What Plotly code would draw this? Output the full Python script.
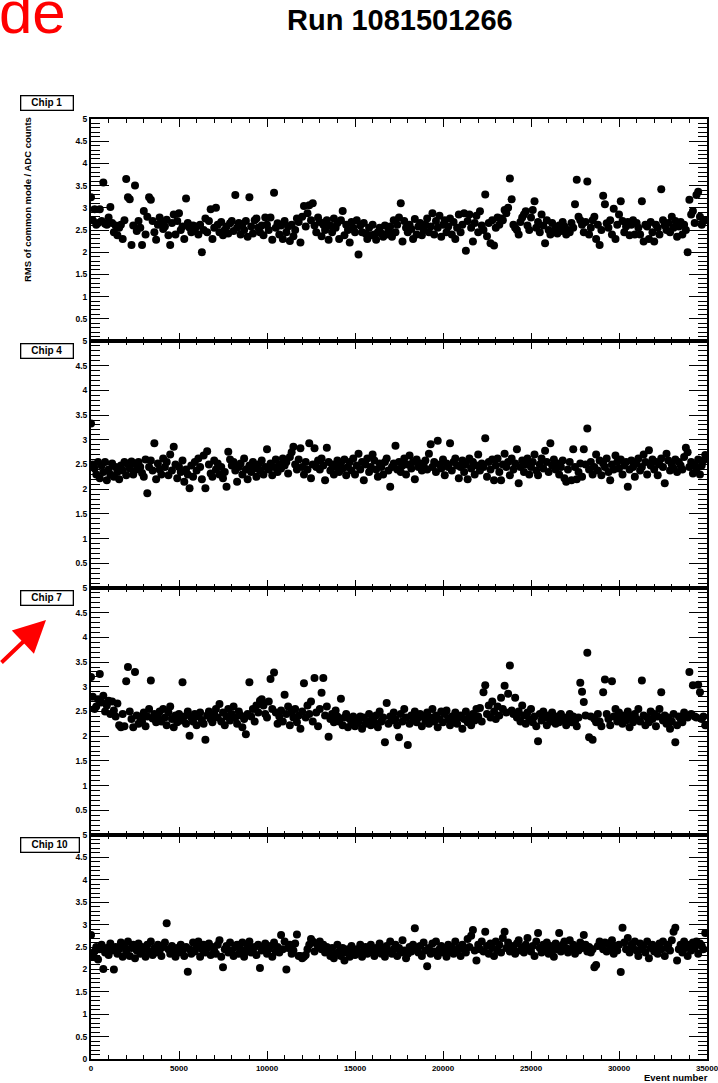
import plotly.graph_objects as go

W, H = 718, 1083

events = list(range(0, 35000, 100))

chip1 = [
3.24,2.72,2.97,2.62,2.66,2.97,2.70,3.57,2.64,2.62,
2.78,3.02,2.66,2.45,2.60,2.38,2.55,2.62,2.30,2.72,
3.65,3.24,3.19,2.16,2.60,3.50,2.48,2.70,2.55,2.16,
2.93,2.40,2.80,3.24,3.18,2.70,2.45,2.28,2.62,2.78,
2.68,2.52,2.58,2.73,2.38,2.16,2.66,2.85,2.40,2.70,
2.88,2.50,2.58,2.30,3.21,2.66,2.55,2.45,2.60,2.48,
2.58,2.40,2.62,2.00,2.50,2.76,2.45,2.70,2.97,2.30,
2.55,3.00,2.62,2.45,2.68,2.38,2.50,2.58,2.42,2.65,
2.70,2.48,3.29,2.55,2.66,2.40,2.62,2.50,2.70,2.35,
3.24,2.58,2.42,2.72,2.76,2.55,2.45,2.60,2.38,2.78,
2.62,2.50,2.78,2.28,3.34,2.55,2.65,2.40,2.60,2.30,
2.70,2.45,2.58,2.25,2.62,2.36,2.50,2.76,2.68,2.22,
2.80,3.04,2.58,2.88,3.06,2.72,3.10,2.60,2.45,2.78,
2.68,2.36,2.62,2.50,2.72,2.28,2.60,2.45,2.76,2.55,
2.66,2.30,2.72,2.93,2.38,2.62,2.50,2.22,2.68,2.55,
2.45,2.72,1.95,2.60,2.45,2.66,2.42,2.30,2.55,2.38,
2.62,2.40,2.28,2.45,2.55,2.42,2.35,2.60,2.40,2.48,
2.58,2.35,2.72,2.45,2.62,2.78,3.10,2.24,2.70,2.55,
2.45,2.62,2.52,2.30,2.75,2.40,2.58,2.66,2.38,2.50,
2.62,2.76,2.45,2.58,2.88,2.40,2.70,2.55,2.82,2.35,
2.62,2.72,2.45,2.58,2.76,2.40,2.68,2.30,2.55,2.85,
2.45,2.62,2.88,2.03,2.70,2.85,2.55,2.24,2.66,2.82,
2.45,2.92,2.60,2.50,3.30,2.36,2.66,2.20,2.72,2.15,
2.55,2.78,2.62,2.76,2.72,2.95,2.88,3.00,3.66,3.19,
2.62,2.55,2.50,2.40,2.68,2.78,2.85,2.92,2.60,2.50,
2.78,2.95,3.15,2.55,2.68,2.45,2.85,2.60,2.20,2.72,
2.50,2.40,2.66,2.45,2.55,2.42,2.60,2.48,2.68,2.58,
2.40,2.50,2.45,2.66,2.55,3.08,3.63,2.80,2.72,2.62,
2.45,2.68,3.59,2.40,2.55,2.72,2.80,2.30,2.62,2.16,
2.50,3.27,3.08,2.65,2.55,2.72,2.40,2.98,2.30,2.62,
2.85,3.15,2.70,2.45,2.58,2.68,2.38,2.62,2.72,2.40,
2.66,2.55,2.40,3.15,2.24,2.62,2.58,2.30,2.68,2.45,
2.24,2.62,2.55,2.40,3.42,2.72,2.60,2.50,2.66,2.45,
2.80,2.55,2.70,2.35,2.58,2.68,2.40,2.62,2.50,2.00,
3.18,2.85,2.93,2.66,3.29,3.36,2.80,2.62,2.70,2.72,
]

chip4 = [
3.33,2.50,2.42,2.30,2.55,2.22,2.48,2.35,2.55,2.18,
2.40,2.30,2.52,2.25,2.45,2.35,2.20,2.48,2.38,2.55,
2.28,2.50,2.42,2.56,2.30,2.52,2.40,2.55,2.45,2.33,
2.25,2.60,1.92,2.45,2.58,2.38,2.93,2.20,2.52,2.40,
2.30,2.62,2.45,2.55,2.28,2.70,2.38,2.86,2.50,2.22,
2.45,2.35,2.58,2.15,2.40,2.30,2.02,2.48,2.25,2.55,
2.38,2.62,2.45,2.20,2.68,2.02,2.77,2.50,2.32,2.25,
2.58,2.40,2.52,2.30,2.45,2.22,2.35,2.05,2.76,2.60,
2.48,2.55,2.38,2.15,2.45,2.52,2.30,2.62,2.40,2.20,
2.48,2.35,2.55,2.42,2.25,2.50,2.38,2.58,2.30,2.45,
2.81,2.40,2.52,2.28,2.45,2.60,2.35,2.50,2.42,2.62,
2.48,2.55,2.32,2.65,2.75,2.86,2.50,2.40,2.60,2.83,
2.45,2.30,2.55,2.40,2.93,2.22,2.50,2.83,2.45,2.58,
2.40,2.62,2.48,2.18,2.84,2.55,2.38,2.50,2.30,2.45,
2.58,2.35,2.52,2.42,2.60,2.28,2.45,2.55,2.38,2.62,
2.30,2.48,2.72,2.40,2.55,2.18,2.50,2.62,2.35,2.45,
2.70,2.58,2.40,2.25,2.52,2.45,2.30,2.55,2.62,2.38,
2.05,2.45,2.52,2.88,2.40,2.55,2.35,2.48,2.62,2.30,
2.50,2.68,2.42,2.55,2.20,2.60,2.45,2.52,2.38,2.48,
2.58,2.40,2.72,2.91,2.45,2.55,2.35,2.98,2.50,2.42,
2.60,2.28,2.52,2.45,2.93,2.38,2.55,2.62,2.48,2.22,
2.45,2.58,2.35,2.50,2.20,2.62,2.42,2.55,2.30,2.48,
2.70,2.38,2.52,2.45,3.03,2.25,2.55,2.40,2.60,2.18,
2.48,2.62,2.35,2.18,2.50,2.72,2.45,2.55,2.28,2.62,
2.40,2.52,2.81,2.12,2.45,2.58,2.35,2.50,2.62,2.30,
2.45,2.55,2.70,2.38,2.28,2.50,2.62,2.42,2.78,2.55,
2.35,2.93,2.48,2.60,2.40,2.52,2.30,2.45,2.58,2.22,
2.15,2.40,2.55,2.18,2.81,2.45,2.20,2.35,2.52,2.25,
2.81,2.50,3.23,2.40,2.55,2.30,2.45,2.70,2.38,2.58,
2.28,2.52,2.45,2.62,2.35,2.18,2.50,2.40,2.68,2.55,
2.42,2.60,2.30,2.48,2.55,2.05,2.40,2.58,2.45,2.25,
2.52,2.62,2.38,2.45,2.70,2.55,2.30,2.79,2.48,2.60,
2.40,2.55,2.28,2.50,2.62,2.45,2.12,2.72,2.58,2.38,
2.50,2.42,2.60,2.35,2.55,2.48,2.40,2.65,2.84,2.75,
2.45,2.55,2.32,2.50,2.40,2.60,2.30,2.48,2.58,2.69,
]

chip7 = [
3.20,2.80,2.55,2.60,2.75,3.26,2.68,2.82,2.50,2.62,
2.72,2.45,2.70,2.52,2.40,2.66,2.22,2.18,2.45,2.20,
3.11,3.40,2.50,2.35,2.18,3.30,2.42,2.25,2.38,2.30,
2.48,2.20,2.40,2.55,3.13,2.36,2.45,2.28,2.42,2.50,
2.30,2.55,2.38,2.22,2.48,2.60,2.35,2.18,2.42,2.28,
2.45,2.32,3.09,2.40,2.25,2.50,2.01,2.38,2.30,2.45,
2.22,2.40,2.48,2.33,2.25,1.93,2.42,2.50,2.35,2.28,
2.45,2.55,2.38,2.65,2.30,2.48,2.22,2.40,2.55,2.32,
2.45,2.60,2.38,2.25,2.50,2.42,2.18,2.35,2.04,2.45,
3.09,2.40,2.55,2.30,2.62,2.48,2.72,2.75,2.62,2.45,
2.38,2.70,3.16,2.55,3.29,2.48,2.25,2.40,2.52,2.30,
2.84,2.45,2.60,2.22,2.50,2.38,2.55,2.28,2.42,2.15,
2.50,3.07,2.38,2.62,2.45,2.70,2.30,3.18,2.48,2.20,
2.55,2.88,3.18,2.42,2.60,1.99,2.35,2.45,2.28,2.52,
2.40,2.30,2.76,2.22,2.38,2.45,2.18,2.35,2.25,2.40,
2.20,2.32,2.28,2.40,2.15,2.38,2.25,2.30,2.45,2.22,
2.35,2.28,2.42,2.18,2.50,2.30,2.38,1.88,2.67,2.25,
2.40,2.32,2.48,2.35,2.22,1.98,2.45,2.30,2.55,2.38,
1.82,2.25,2.42,2.35,2.50,2.28,2.38,2.45,2.20,2.40,
2.32,2.48,2.25,2.38,2.55,2.30,2.42,2.18,2.35,2.50,
2.28,2.45,2.52,2.35,2.22,2.40,2.30,2.48,2.25,2.38,
2.42,2.15,2.35,2.50,2.28,2.40,2.22,2.45,2.32,2.55,
2.40,2.57,2.30,2.89,3.03,2.45,2.62,2.38,2.70,2.50,
2.35,2.60,2.42,2.78,2.55,3.02,2.48,2.86,3.43,2.52,
2.45,2.78,2.38,2.50,2.30,2.62,2.42,2.25,2.48,2.35,
2.55,2.28,2.40,2.20,1.90,2.45,2.32,2.50,2.38,2.22,
2.42,2.30,2.48,2.35,2.25,2.40,2.28,2.45,2.32,2.38,
2.22,2.35,2.45,2.28,2.40,2.30,2.20,2.38,3.08,2.90,
2.69,2.42,3.69,1.98,2.40,1.93,2.35,2.28,2.45,2.30,
2.20,2.89,3.15,2.45,2.35,2.22,3.11,2.40,2.55,2.30,
2.48,2.38,2.25,2.42,2.32,2.50,2.18,2.40,2.28,2.45,
2.35,2.55,2.30,3.13,2.42,2.22,2.38,2.28,2.50,2.35,
2.45,2.20,2.40,2.55,2.89,2.32,2.42,2.25,2.38,2.15,
2.30,2.45,1.88,2.22,2.40,2.35,2.28,2.48,2.42,2.38,
3.30,2.45,3.03,2.40,2.38,3.04,2.89,2.35,2.40,2.22,
]

chip10 = [
2.77,2.28,2.40,2.50,2.22,2.45,2.55,2.01,2.38,2.48,
2.32,2.58,2.42,2.00,2.50,2.35,2.45,2.60,2.28,2.52,
2.40,2.62,2.30,2.48,2.55,2.25,2.42,2.58,2.35,2.50,
2.45,2.28,2.55,2.40,2.62,2.32,2.48,2.38,2.55,2.42,
2.30,2.50,2.60,3.03,2.45,2.35,2.52,2.40,2.28,2.48,
2.38,2.55,2.42,2.30,2.50,1.95,2.45,2.35,2.60,2.40,
2.52,2.62,2.28,2.45,2.55,2.38,2.48,2.58,2.32,2.50,
2.42,2.35,2.55,2.65,2.28,2.05,2.45,2.52,2.38,2.60,
2.42,2.30,2.50,2.55,2.35,2.45,2.60,2.28,2.40,2.52,
2.62,2.38,2.45,2.50,2.32,2.55,2.03,2.42,2.48,2.58,
2.35,2.45,2.52,2.28,2.60,2.40,2.50,2.38,2.77,2.45,
2.62,2.00,2.48,2.55,2.35,2.42,2.58,2.78,2.30,2.30,
2.25,2.28,2.32,2.45,2.55,2.68,2.62,2.40,2.58,2.50,
2.62,2.45,2.55,2.38,2.50,2.42,2.30,2.48,2.25,2.35,
2.55,2.40,2.30,2.48,2.20,2.38,2.45,2.28,2.52,2.40,
2.32,2.45,2.38,2.55,2.28,2.42,2.50,2.35,2.45,2.55,
2.38,2.30,2.48,2.42,2.58,2.35,2.45,2.28,2.52,2.40,
2.62,2.35,2.45,2.55,2.30,2.48,2.38,2.65,2.42,2.25,
2.35,2.50,2.40,2.55,2.92,2.45,2.38,2.52,2.30,2.60,
2.42,2.07,2.48,2.35,2.58,2.40,2.62,2.30,2.45,2.52,
2.38,2.45,2.28,2.55,2.40,2.50,2.35,2.62,2.42,2.48,
2.30,2.55,2.45,2.38,2.68,2.50,2.75,2.88,2.42,2.20,
2.55,2.45,2.62,2.40,2.84,2.52,2.35,2.58,2.48,2.30,
2.62,2.42,2.55,2.38,2.70,2.84,2.48,2.60,2.40,2.52,
2.45,2.35,2.58,2.65,2.42,2.50,2.38,2.55,2.70,2.45,
2.40,2.52,2.30,2.62,2.81,2.48,2.38,2.55,2.45,2.60,
2.35,2.52,2.42,2.28,2.58,2.45,2.81,2.40,2.55,2.62,
2.48,2.38,2.65,2.45,2.55,2.35,2.50,2.42,2.60,2.48,
2.77,2.55,2.40,2.50,2.38,2.45,2.05,2.10,2.52,2.62,
2.55,2.45,2.60,2.40,2.58,2.48,2.65,2.35,2.52,2.42,
2.55,1.94,2.93,2.60,2.45,2.70,2.38,2.55,2.48,2.62,
2.42,2.30,2.58,2.45,2.52,2.38,2.62,2.25,2.48,2.55,
2.40,2.50,2.35,2.58,2.45,2.62,2.30,2.48,2.55,2.42,
2.65,2.84,2.93,2.20,2.45,2.55,2.38,2.62,2.48,2.30,
2.55,2.42,2.60,2.48,2.62,2.35,2.58,2.52,2.45,2.81,
]

panels = [("Chip 1", chip1), ("Chip 4", chip4), ("Chip 7", chip7), ("Chip 10", chip10)]
# pixel rows of each frame (top, bottom)
frames = [(119, 341), (341, 588), (588, 835), (835, 1059)]
x_left, x_right = 91, 707

y_ticks = [0, 0.5, 1, 1.5, 2, 2.5, 3, 3.5, 4, 4.5, 5]
y_text_full = ["0", "0.5", "1", "1.5", "2", "2.5", "3", "3.5", "4", "4.5", "5"]
x_ticks = [0, 5000, 10000, 15000, 20000, 25000, 30000, 35000]
x_text = ["0", "5000", "10000", "15000", "20000", "25000", "30000", "35000"]

FONT = "Liberation Sans"
fig = go.Figure()
layout = dict(width=W, height=H, margin=dict(l=0, r=0, t=0, b=0, autoexpand=False),
              paper_bgcolor="white", plot_bgcolor="white", showlegend=False)

annotations = []
for i, ((name, vals), (ptop, pbot)) in enumerate(zip(panels, frames)):
    n = min(len(events), len(vals))
    k = "" if i == 0 else str(i + 1)
    fig.add_trace(go.Scatter(x=events[:n], y=vals[:n], mode="markers",
                             marker=dict(color="black", size=8),
                             xaxis="x" + k, yaxis="y" + k, cliponaxis=True))
    last = (i == len(panels) - 1)
    ytext = y_text_full if last else [""] + y_text_full[1:]
    layout["xaxis" + k] = dict(
        domain=[x_left / W, x_right / W], range=[0, 35000], anchor="y" + k,
        automargin=False,
        showgrid=False, zeroline=False, showline=True, linecolor="black", linewidth=2,
        mirror="allticks", ticks="inside", ticklen=8, tickwidth=1.3, tickcolor="black",
        tickmode="array", tickvals=x_ticks, ticktext=x_text, showticklabels=last,
        ticklabeloverflow="allow",
        tickfont=dict(family=FONT, size=8, color="black", weight="bold"),
        minor=dict(tickmode="linear", tick0=0, dtick=1000, ticks="inside", ticklen=4,
                   tickcolor="black", tickwidth=1.2, showgrid=False),
    )
    layout["yaxis" + k] = dict(
        domain=[1 - pbot / H, 1 - ptop / H], range=[0, 5], anchor="x" + k,
        automargin=False,
        showgrid=False, zeroline=False, showline=True, linecolor="black", linewidth=2,
        mirror="allticks", ticks="inside", ticklen=18, tickwidth=1.3, tickcolor="black",
        tickmode="array", tickvals=y_ticks, ticktext=ytext,
        tickfont=dict(family=FONT, size=8.5, color="black", weight="bold"),
        minor=dict(tickmode="linear", tick0=0, dtick=0.1, ticks="inside", ticklen=9,
                   tickcolor="black", tickwidth=1.2, showgrid=False),
    )
    # chip label box
    annotations.append(dict(
        xref="paper", yref="paper", x=20 / W, y=1 - (ptop - 24 if i == 0 else ptop + 2) / H,
        xanchor="left", yanchor="top", showarrow=False,
        text="<b>%s</b>" % name, font=dict(family=FONT, size=10, color="black"),
        bgcolor="white", bordercolor="black", borderwidth=1.3, borderpad=1,
        width=49 if name != "Chip 10" else 55, height=11, align="center"))

annotations += [
    dict(xref="paper", yref="paper", x=400 / W, y=1 - 20 / H, xanchor="center", yanchor="middle",
         showarrow=False, text="<b>Run 1081501266</b>",
         font=dict(family=FONT, size=29, color="black")),
    dict(xref="paper", yref="paper", x=27 / W, y=1 - 200 / H, xanchor="center", yanchor="middle",
         showarrow=False, textangle=-90, text="<b>RMS of common mode / ADC counts</b>",
         font=dict(family=FONT, size=9.5, color="black")),
    dict(xref="paper", yref="paper", x=710 / W, y=1 - 1077 / H, xanchor="right", yanchor="middle",
         showarrow=False, text="<b>Event number</b>",
         font=dict(family=FONT, size=9.5, color="black")),
    dict(xref="paper", yref="paper", x=-3 / W, y=1 + 23 / H, xanchor="left", yanchor="top",
         showarrow=False, text="de", font=dict(family=FONT, size=60, color="#ff0000")),
    dict(xref="paper", yref="paper", x=46 / W, y=1 - 620 / H, ax=-52, ay=44,
         showarrow=True, text="", arrowhead=2, arrowsize=1.6, arrowwidth=4,
         arrowcolor="#ff0000"),
]
layout["annotations"] = annotations
fig.update_layout(**layout)
fig.write_html("out.html", config={"displayModeBar": False},
               post_script="document.body.style.margin='0px';document.body.style.overflow='hidden';")
